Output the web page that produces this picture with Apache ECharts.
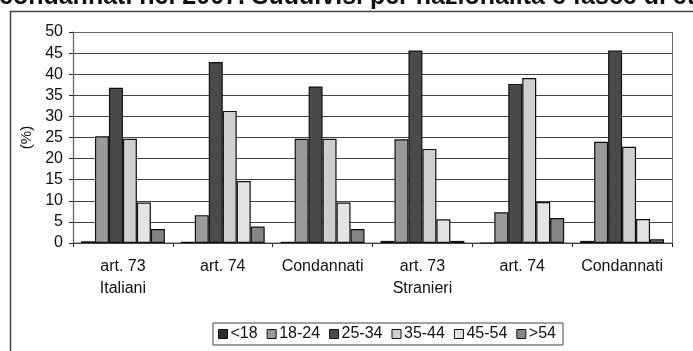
<!DOCTYPE html>
<html><head><meta charset="utf-8">
<script src="https://cdn.jsdelivr.net/npm/echarts@6/dist/echarts.min.js"></script>
<style>html,body{margin:0;padding:0;background:#fff}#c{width:693px;height:351px}</style>
</head><body><div id="c"></div>
<script>
const categories = ['art. 73\nItaliani', 'art. 74', 'Condannati', 'art. 73\nStranieri', 'art. 74', 'Condannati'];
const seriesNames = ['<18', '18-24', '25-34', '35-44', '45-54', '>54'];
const s_lt18 = [0.4, 0.3, 0.3, 0.5, 0.0, 0.5];
const s_18_24 = [25.3, 6.6, 24.7, 24.6, 7.3, 24.0];
const s_25_34 = [36.8, 42.9, 37.1, 45.6, 37.7, 45.6];
const s_35_44 = [24.7, 31.3, 24.7, 22.3, 39.1, 22.8];
const s_45_54 = [9.6, 14.7, 9.6, 5.6, 9.7, 5.7];
const s_gt54 = [3.3, 3.9, 3.3, 0.5, 5.9, 0.9];
const yTicks = [0, 5, 10, 15, 20, 25, 30, 35, 40, 45, 50];
const colors = ['#2e2e2e', '#9a9a9a', '#4a4a4a', '#cfcfcf', '#e4e4e4', '#858585'];
const allSeries = [s_lt18, s_18_24, s_25_34, s_35_44, s_45_54, s_gt54];
const font = 'Liberation Sans, Arial, sans-serif';
const chart = echarts.init(document.getElementById('c'), null, {renderer: 'canvas'});
chart.setOption({
  animation: false,
  backgroundColor: '#fff',
  color: colors,
  title: {
    text: 'condannati nel 2007. Suddivisi per nazionalità e fasce di età',
    left: -1, top: -15, padding: 0,
    textStyle: {fontFamily: font, fontSize: 25, fontWeight: 'bold', color: '#111'}
  },
  graphic: [{
    type: 'rect', shape: {x: 10.5, y: 11.5, width: 700, height: 400},
    style: {fill: 'none', stroke: '#444', lineWidth: 1.5}, z: -1
  }, {
    type: 'rect', shape: {x: 73.5, y: 32.5, width: 599, height: 210.5},
    style: {fill: 'none', stroke: '#666', lineWidth: 1}, z: 1
  }],
  legend: {
    data: seriesNames,
    left: 213, top: 323, width: 500,
    itemWidth: 9, itemHeight: 9, itemGap: 9,
    padding: [3, 7, 3, 5],
    borderColor: '#444', borderWidth: 1,
    icon: 'rect',
    textStyle: {fontFamily: font, fontSize: 16, color: '#111', padding: [0, 0, 0, -2]},
    itemStyle: {borderColor: '#111', borderWidth: 1}
  },
  grid: {left: 73, right: 21, top: 32, bottom: 108},
  xAxis: {
    type: 'category', data: categories,
    axisLine: {lineStyle: {color: '#222', width: 1.2}},
    axisTick: {show: true, length: 4, lineStyle: {color: '#222'}},
    axisLabel: {fontFamily: font, fontSize: 16, color: '#111', margin: 13, lineHeight: 22, interval: 0}
  },
  yAxis: {
    type: 'value', min: 0, max: 50, interval: 5,
    name: '(%)', nameLocation: 'middle', nameGap: 38, nameRotate: 90,
    nameTextStyle: {fontFamily: font, fontSize: 15, color: '#111'},
    axisLine: {show: true, lineStyle: {color: '#222', width: 1.2}},
    axisTick: {show: true, length: 4, lineStyle: {color: '#222'}},
    axisLabel: {fontFamily: font, fontSize: 16, color: '#111', margin: 10,
      formatter: v => yTicks.includes(v) ? String(v) : ''},
    splitLine: {lineStyle: {color: '#444', width: 1.2}}
  },
  series: allSeries.map((d, i) => ({
    name: seriesNames[i], type: 'bar', data: d,
    barGap: '0%', barCategoryGap: '16%',
    itemStyle: {color: colors[i], borderColor: '#111', borderWidth: 1.2}
  }))
});
</script></body></html>
